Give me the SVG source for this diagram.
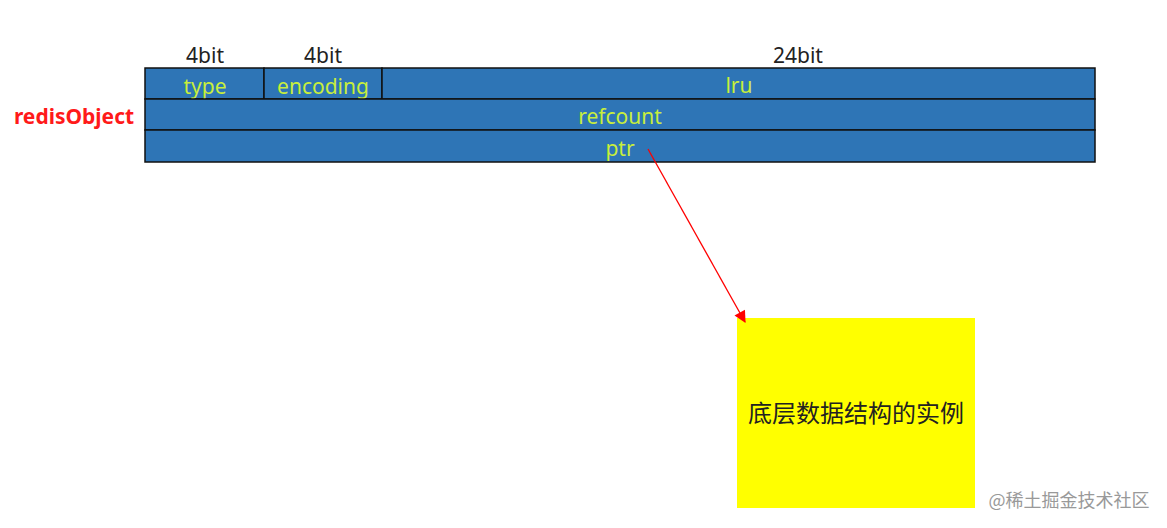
<svg xmlns="http://www.w3.org/2000/svg" width="1167" height="528" viewBox="0 0 1167 528">
<style>
.cell{fill:#2e75b6;stroke:#111;stroke-width:1.5}
.lbl{font-family:"Noto Sans","Liberation Sans",Arial,sans-serif;font-size:21px;fill:#c8ee3c;text-anchor:middle}
.bit{font-family:"Noto Sans","Liberation Sans",Arial,sans-serif;font-size:21px;fill:#222;text-anchor:middle}
</style>
<defs>
<marker id="ah" viewBox="0 0 10 10" refX="9" refY="5" markerWidth="14" markerHeight="12" markerUnits="userSpaceOnUse" orient="auto">
<path d="M0,0 L10,5 L0,10 z" fill="#ff0000"/>
</marker>
</defs>
<rect width="1167" height="528" fill="#fff"/>
<g id="header">
<text class="bit" x="205" y="63">4bit</text>
<text class="bit" x="323" y="63">4bit</text>
<text class="bit" x="798" y="63">24bit</text>
</g>
<g id="redisObject">
<text x="74" y="124" font-family="Noto Sans,Liberation Sans,Arial,sans-serif" font-size="21" font-weight="bold" fill="#ff1a1a" text-anchor="middle">redisObject</text>
<g id="type"><rect class="cell" x="145" y="68" width="119" height="31"/><text class="lbl" x="205" y="94">type</text></g>
<g id="encoding"><rect class="cell" x="264" y="68" width="118" height="31"/><text class="lbl" x="323" y="94">encoding</text></g>
<g id="lru"><rect class="cell" x="382" y="68" width="713" height="31"/><text class="lbl" x="739" y="93">lru</text></g>
<g id="refcount"><rect class="cell" x="145" y="99" width="950" height="31"/><text class="lbl" x="620" y="124">refcount</text></g>
<g id="ptr"><rect class="cell" x="145" y="130" width="950" height="32"/><text class="lbl" x="620" y="156">ptr</text></g>
</g>
<g id="instance">
<rect x="737" y="318" width="238" height="190" fill="#ffff00"/>
<text x="856" y="422" font-family="'Noto Sans CJK SC',sans-serif" font-size="24" fill="#222" text-anchor="middle">底层数据结构的实例</text>
</g>
<g id="connectors">
<line x1="648" y1="149" x2="745" y2="322" stroke="#ff0000" stroke-width="1.3" marker-end="url(#ah)"/>
</g>
<text x="1069" y="507" font-family="'Noto Sans CJK SC',sans-serif" font-size="18" fill="#999" text-anchor="middle">@稀土掘金技术社区</text>
</svg>
